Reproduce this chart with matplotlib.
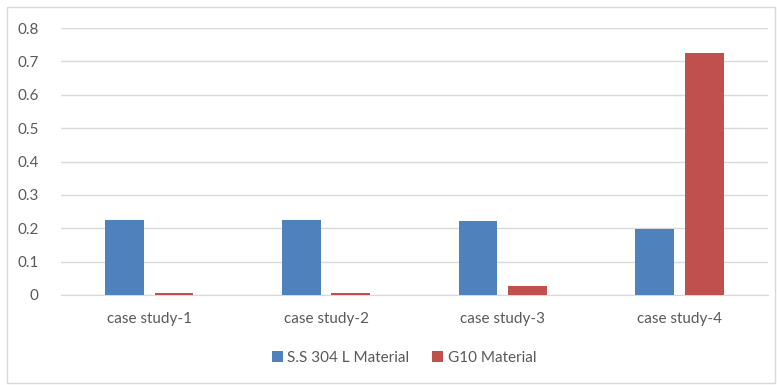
import numpy as np
import matplotlib.pyplot as plt
from matplotlib.patches import Rectangle

categories = ["case study-1", "case study-2", "case study-3", "case study-4"]
ss304_values = [0.225, 0.225, 0.221, 0.198]
g10_values = [0.005, 0.005, 0.028, 0.725]
series_names = ["S.S 304 L Material", "G10 Material"]

plt.rcParams['font.family'] = ['Lato', 'DejaVu Sans']

fig = plt.figure(figsize=(7.77, 3.85), dpi=100)
fig.patches.append(Rectangle((0.009, 0.005), 0.989, 0.977, transform=fig.transFigure,
                             fill=False, edgecolor="#d9d9d9", linewidth=1))
ax = fig.add_axes([0.0785, 0.234, 0.9095, 0.693])

x = np.arange(len(categories))
width = 0.22
ax.bar(x - 0.14, ss304_values, width, color="#4f81bd", label=series_names[0], zorder=3)
ax.bar(x + 0.14, g10_values, width, color="#c0504d", label=series_names[1], zorder=3)

ax.set_xlim(-0.5, len(categories) - 0.5)
ax.set_ylim(0, 0.8)
ax.set_yticks(np.arange(0, 0.81, 0.1))
ax.set_yticklabels(["0"] + ["%.1f" % v for v in np.arange(0.1, 0.81, 0.1)])
ax.set_xticks(x)
ax.set_xticklabels(categories)
ax.yaxis.grid(True, color="#d9d9d9", linewidth=1, zorder=0)
ax.tick_params(axis="both", length=0, labelsize=11, colors="#595959")
ax.tick_params(axis="x", pad=12)
ax.tick_params(axis="y", pad=16)
for side in ["top", "right", "left"]:
    ax.spines[side].set_visible(False)
ax.spines["bottom"].set_color("#d9d9d9")

fig.legend(loc="center", bbox_to_anchor=(0.52, 0.07), ncol=2, frameon=False,
           fontsize=11, handlelength=0.7, handleheight=0.7, columnspacing=1.5,
           handletextpad=0.3, labelcolor="#595959")

fig.savefig("out.png", dpi=100)
